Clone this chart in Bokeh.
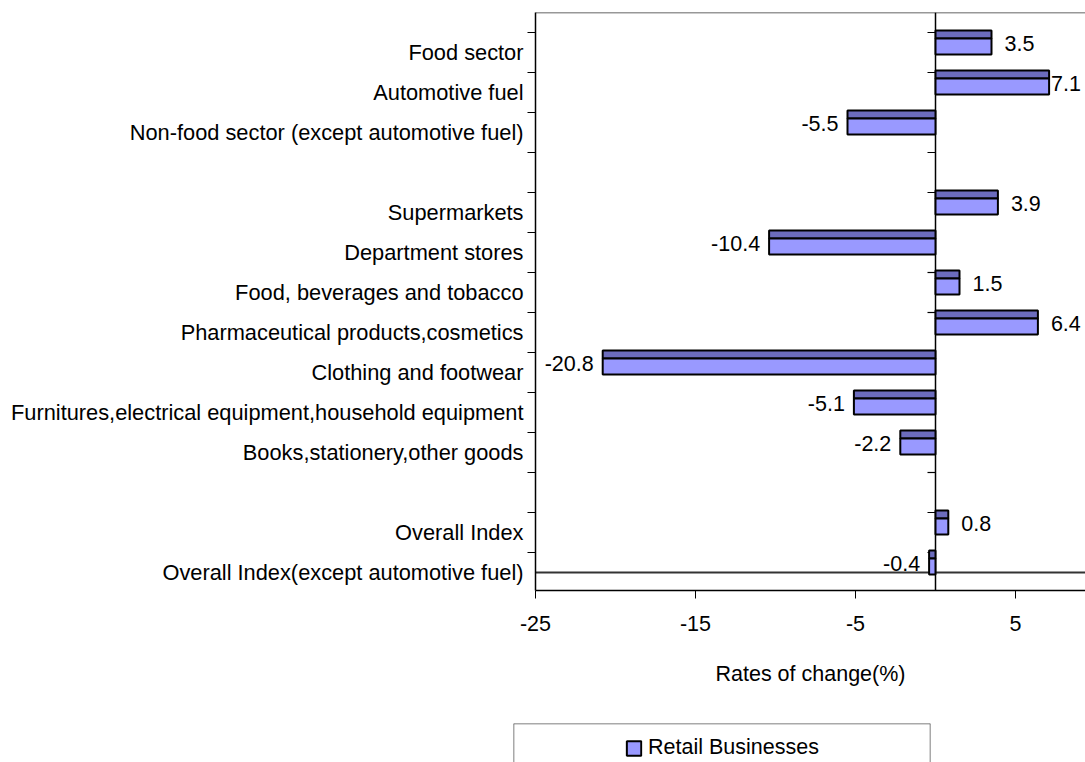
from bokeh.plotting import figure
from bokeh.models import (Range1d, FixedTicker, Span, Legend, LegendItem,
                          ColumnDataSource)
from bokeh.core.properties import value
from bokeh.embed import file_html
from bokeh.resources import INLINE

# ---------------- data ----------------
categories = [
    "Food sector",
    "Automotive fuel",
    "Non-food sector (except automotive fuel)",
    "",
    "Supermarkets",
    "Department stores",
    "Food, beverages and tobacco",
    "Pharmaceutical products,cosmetics",
    "Clothing and footwear",
    "Furnitures,electrical equipment,household equipment",
    "Books,stationery,other goods",
    "",
    "Overall Index",
    "Overall Index(except automotive fuel)",
]
values = [3.5, 7.1, -5.5, None, 3.9, -10.4, 1.5, 6.4, -20.8, -5.1, -2.2, None, 0.8, -0.4]
x_ticks = [-25, -15, -5, 5]
series_name = "Retail Businesses"
x_title = "Rates of change(%)"

FONT = "Liberation Sans"
FS = "21.5px"
FS_CAT = "21.8px"
LIGHT = "#9999ff"
DARK = "#6c6cbd"

n = len(categories)
rows = [(i, v) for i, v in enumerate(values) if v is not None]
idx = [i for i, _ in rows]
vals = [v for _, v in rows]

src = ColumnDataSource(dict(
    left=[min(0, v) for v in vals],
    right=[max(0, v) for v in vals],
    top=[i - 0.55 for i in idx],
    mid=[i - 0.35 for i in idx],
    bot=[i + 0.05 for i in idx],
))

p = figure(width=1085, height=723, output_backend="svg", toolbar_location=None,
           x_range=Range1d(-25, 9.375), y_range=Range1d(13.45, -1.0),
           min_border_left=535, min_border_right=0, min_border_top=12,
           min_border_bottom=133)
p.outline_line_color = None
p.xgrid.visible = False
p.ygrid.visible = False
p.background_fill_color = "white"
p.border_fill_color = "white"

# reference lines
p.add_layout(Span(location=-1.0, dimension="width", line_color="#333333",
                  line_width=1.5, level="underlay"))
p.add_layout(Span(location=0, dimension="height", line_color="black",
                  line_width=1.5, level="underlay"))
p.add_layout(Span(location=n - 1, dimension="width", line_color="#333333",
                  line_width=2, level="underlay"))

# small ticks on the zero line at category boundaries
bounds = [i - 0.5 for i in range(n)]
p.segment(x0=[-0.5] * len(bounds), x1=[0] * len(bounds), y0=bounds, y1=bounds,
          line_color="black", line_width=1.2)

# bars: darker top strip + light body
p.quad(left="left", right="right", top="top", bottom="mid", source=src,
       fill_color=DARK, line_color="black", line_width=2)
p.quad(left="left", right="right", top="mid", bottom="bot", source=src,
       fill_color=LIGHT, line_color="black", line_width=2)

# value labels
pos = [(i, v) for i, v in rows if v >= 0]
neg = [(i, v) for i, v in rows if v < 0]
p.text(x=[v for _, v in pos], y=[i - 0.22 for i, _ in pos],
       text=[f"{v:.1f}" for _, v in pos],
       x_offset=[2 if v > 7 else 13 for _, v in pos],
       text_align="left", text_baseline="middle",
       text_font=value(FONT), text_font_size=value(FS), text_color="black")
p.text(x=[v for _, v in neg], y=[i - 0.22 for i, _ in neg],
       text=[f"{v:.1f}" for _, v in neg],
       x_offset=-9, text_align="right", text_baseline="middle",
       text_font=value(FONT), text_font_size=value(FS), text_color="black")

# x axis
xa = p.xaxis[0]
xa.ticker = FixedTicker(ticks=x_ticks)
xa.major_label_overrides = {t: str(t) for t in x_ticks}
xa.axis_label = x_title
xa.axis_label_text_font = FONT
xa.axis_label_text_font_size = FS
xa.axis_label_text_font_style = "normal"
xa.axis_label_text_color = "black"
xa.axis_label_standoff = 28
xa.major_label_text_font = FONT
xa.major_label_text_font_size = FS
xa.major_label_text_color = "black"
xa.major_label_standoff = 17
xa.major_tick_out = 8
xa.major_tick_in = 0
xa.minor_tick_line_color = None
xa.axis_line_color = "black"
xa.axis_line_width = 1.5
xa.major_tick_line_color = "black"

# y axis
ya = p.yaxis[0]
centers = [i for i, c in enumerate(categories) if c]
ya.ticker = FixedTicker(ticks=centers, minor_ticks=[i - 0.5 for i in range(n + 1)])
ya.major_label_overrides = {i: categories[i] for i in centers}
ya.major_label_text_font = FONT
ya.major_label_text_font_size = FS_CAT
ya.major_label_text_color = "black"
ya.major_label_standoff = 4
ya.major_tick_line_color = None
ya.major_tick_out = 0
ya.major_tick_in = 0
ya.minor_tick_line_color = "black"
ya.minor_tick_line_width = 1.2
ya.minor_tick_out = 8
ya.minor_tick_in = 0
ya.axis_line_color = "black"
ya.axis_line_width = 1.5

# ---------------- legend strip (separate root, no frame alignment) ----------------
p2 = figure(width=1085, height=39, output_backend="svg", toolbar_location=None,
            x_range=Range1d(0, 1), y_range=Range1d(100, 101),
            x_axis_location=None, y_axis_location=None,
            min_border_left=513, min_border_right=155,
            min_border_top=0, min_border_bottom=0)
p2.outline_line_color = None
p2.xgrid.visible = False
p2.ygrid.visible = False
p2.background_fill_color = "white"
p2.border_fill_color = "white"
for loc, dim in [(0, "height"), (1, "height"), (101, "width")]:
    p2.add_layout(Span(location=loc, dimension=dim, line_color="#555555",
                       line_width=1.5))
swatch = p2.quad(left="left", right="right", top="mid", bottom="bot", source=src,
                 fill_color=LIGHT, line_color="black", line_width=2)
legend = Legend(items=[LegendItem(label=series_name, renderers=[swatch])],
                location="top_center", margin=12, padding=0,
                label_standoff=6, glyph_width=18, glyph_height=18,
                label_text_font=FONT, label_text_font_size=FS,
                label_text_color="black",
                border_line_color=None, background_fill_alpha=0)
p2.add_layout(legend)

open("out.html", "w").write(file_html([p, p2], INLINE))
